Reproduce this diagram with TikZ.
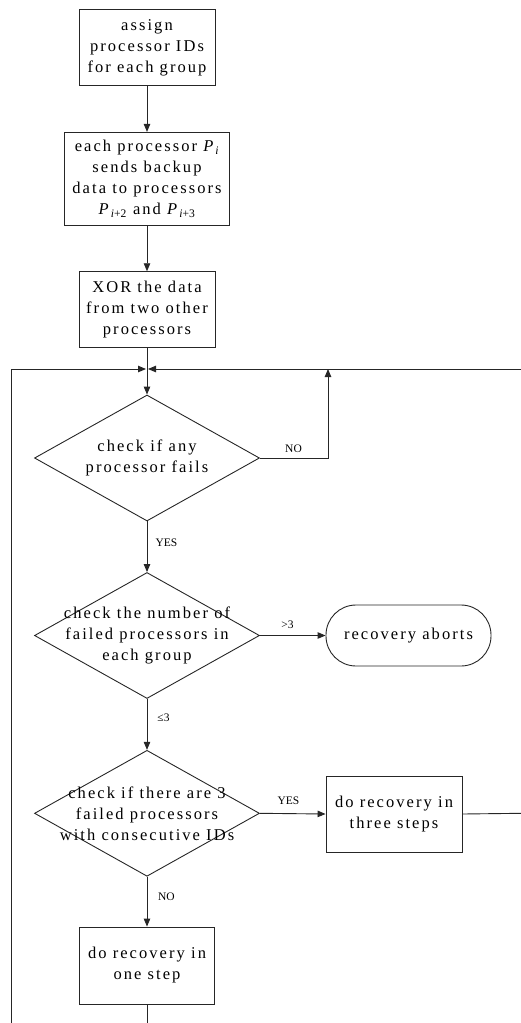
\documentclass[tikz,border=0pt]{standalone}
\usepackage{fontspec}
\setmainfont{Liberation Serif}
\newfontfamily\spacedfont[LetterSpace=12.5]{Liberation Serif}
\usetikzlibrary{arrows.meta,shapes.geometric}
\newcommand{\Psub}[1]{\textit{P}\textsubscript{\rmfamily #1}}
\tikzset{
  ln/.style={line width=0.9pt, draw=black!85},
  arr/.style={ln, -{Triangle[length=8pt,width=6.5pt]}},
  txt/.style={align=center, inner sep=0pt, font=\fontsize{16.5}{21}\selectfont\spacedfont},
  box/.style={ln, rectangle, txt},
  term/.style={ln, rectangle, rounded corners=30pt, txt},
  dec/.style={ln, diamond, minimum width=225, minimum height=126, inner sep=0pt},
  lab/.style={inner sep=0pt, font=\fontsize{11.5}{13}\selectfont},
}
\begin{document}
\begin{tikzpicture}[x=1pt,y=-1pt]
\useasboundingbox (0,0) rectangle (521,1023);
% process boxes
\node[box, minimum width=136, minimum height=76] (b1) at (147,47.7) {assign\\processor IDs\\for each group};
\node[box, minimum width=165, minimum height=92.7] (b2) at (147,178.7) {each processor \Psub{\textit{i}}\\sends backup\\data to processors\\\Psub{\textit{i}+2} and \Psub{\textit{i}+3}};
\node[box, minimum width=136, minimum height=76] (b3) at (147,309.7) {XOR the data\\from two other\\processors};
% decisions
\node[dec] (d1) at (147,458) {};
\node[txt] (t1) at (147,458) {check if any\\processor fails};
\node[dec] (d2) at (147,635.5) {};
\node[txt] (t2) at (147,635.5) {check the number of\\failed processors in\\each group};
\node[dec] (d3) at (147,813.3) {};
\node[txt] (t3) at (147,813.3) {check if there are 3\\failed processors\\with consecutive IDs};
% outcomes
\node[term, minimum width=165, minimum height=61] (ab) at (408.5,635.5) {recovery aborts};
\node[box, minimum width=136, minimum height=76] (b4) at (394,814) {do recovery in\\three steps};
\node[box, minimum width=135, minimum height=77] (b5) at (147,965.5) {do recovery in\\one step};
% loop coordinates
\coordinate (jl) at (146,369);
\coordinate (jr) at (148,369);
\coordinate (lb) at (11,1023);
\coordinate (rt) at (521,369);
\coordinate (nup) at (328,369);
\coordinate (re) at (521,813.3);
\coordinate (bb) at (147,1023);
% connectors
\draw[arr] (b1.south) -- (b2.north);
\draw[arr] (b2.south) -- (b3.north);
\draw[arr] (b3.south) -- (d1.north);
\draw[arr] (lb) |- (jl);
\draw[arr] (rt) -- (jr);
\draw[arr] (d1.east) -| (nup);
\draw[arr] (d1.south) -- (d2.north);
\draw[arr] (d2.east) -- (ab.west);
\draw[arr] (d2.south) -- (d3.north);
\draw[arr] (d3.east) -- (b4.west);
\draw[arr] (d3.south) -- (b5.north);
\draw[ln] (b4.east) -- (re);
\draw[ln] (b5.south) -- (bb);
% branch labels
\node[lab] (lno1) at (293.5,449) {NO};
\node[lab] (lyes1) at (166.5,543) {YES};
\node[lab] (lgt) at (287.5,624.5) {>3};
\node[lab] (lle) at (163.5,718) {≤3};
\node[lab] (lyes2) at (288.5,801) {YES};
\node[lab] (lno2) at (166.5,896.5) {NO};
\end{tikzpicture}
\end{document}
